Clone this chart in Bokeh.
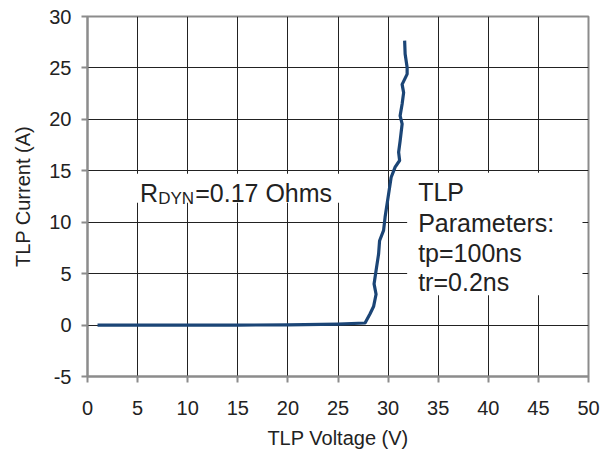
from bokeh.plotting import figure
from bokeh.models import Range1d, SingleIntervalTicker, Label, BoxAnnotation, PrintfTickFormatter
from bokeh.embed import file_html
from bokeh.resources import INLINE

# TLP I-V curve
tlp_voltage = [1.0, 5.0, 10.0, 15.0, 20.0, 25.0, 27.7, 28.2, 28.55, 28.8, 28.6, 28.8,
               29.05, 29.15, 29.55, 29.7, 30.05, 30.3, 30.7, 31.15, 31.05, 31.2,
               31.4, 31.2, 31.4, 31.55, 31.4, 31.9, 31.9, 31.7, 31.65]
tlp_current = [0.0, 0.0, 0.0, 0.0, 0.02, 0.1, 0.2, 1.1, 1.8, 3.0, 4.0, 5.3,
               6.9, 8.2, 9.2, 10.5, 12.75, 14.35, 15.35, 16.0, 16.8, 17.9,
               19.55, 20.35, 21.5, 22.6, 23.4, 24.4, 25.05, 26.35, 27.65]

x_title = "TLP Voltage (V)"
y_title = "TLP Current (A)"
rdyn_main = "R"
rdyn_sub = "DYN"
rdyn_rest = "=0.17 Ohms"
param_lines = ["TLP", "Parameters:", "tp=100ns", "tr=0.2ns"]

FONT = "Liberation Sans"

p = figure(frame_width=501, frame_height=360, output_backend="svg",
           toolbar_location=None, x_range=Range1d(0, 50), y_range=Range1d(-5, 30),
           min_border_left=87, min_border_top=16, min_border_right=14,
           min_border_bottom=67)
p.background_fill_color = "white"
p.border_fill_color = "white"
p.outline_line_color = "#8c8c8c"
p.outline_line_width = 2

for ax in (p.xaxis, p.yaxis):
    ax.ticker = SingleIntervalTicker(interval=5)
    ax.formatter = PrintfTickFormatter(format="%d")
    ax.axis_line_color = "#8c8c8c"
    ax.axis_line_width = 2
    ax.major_tick_line_color = "#8c8c8c"
    ax.major_tick_line_width = 2
    ax.major_tick_in = 0
    ax.major_tick_out = 6
    ax.minor_tick_line_color = None
    ax.major_label_text_font = FONT
    ax.major_label_text_font_size = "20px"
    ax.major_label_text_color = "#222222"
    ax.axis_label_text_font = FONT
    ax.axis_label_text_font_size = "20px"
    ax.axis_label_text_font_style = "normal"
    ax.axis_label_text_color = "#222222"

p.xaxis.axis_label = x_title
p.yaxis.axis_label = y_title
p.xaxis.major_label_standoff = 18
p.yaxis.major_label_standoff = 10
p.xaxis.axis_label_standoff = 9
p.yaxis.axis_label_standoff = 12

for g in (p.xgrid, p.ygrid):
    g.ticker = SingleIntervalTicker(interval=5)
    g.grid_line_color = "#222222"
    g.grid_line_width = 1

p.line(tlp_voltage, tlp_current, line_color="#1b4576", line_width=3.2,
       line_join="round")

# white backgrounds behind annotations
p.add_layout(BoxAnnotation(left=4.0, right=25.7, bottom=11.9, top=14.7,
                           fill_color="white", fill_alpha=1, line_color=None))
p.add_layout(BoxAnnotation(left=31.9, right=49.4, bottom=2.9, top=14.8,
                           fill_color="white", fill_alpha=1, line_color=None))

p.add_layout(Label(x=5.25, y=12.85, text=rdyn_main, text_font=FONT,
                   text_font_size="25px", text_color="#222222",
                   text_baseline="alphabetic"))
p.add_layout(Label(x=7.05, y=12.35, text=rdyn_sub, text_font=FONT,
                   text_font_size="17px", text_color="#222222",
                   text_baseline="alphabetic"))
p.add_layout(Label(x=10.75, y=12.85, text=rdyn_rest, text_font=FONT,
                   text_font_size="25px", text_color="#222222",
                   text_baseline="alphabetic"))

param_y = [12.9, 9.9, 7.05, 4.2]
for t, yy in zip(param_lines, param_y):
    p.add_layout(Label(x=33.0, y=yy, text=t, text_font=FONT,
                       text_font_size="25px", text_color="#222222",
                       text_baseline="alphabetic"))

open("out.html", "w").write(file_html(p, INLINE))
